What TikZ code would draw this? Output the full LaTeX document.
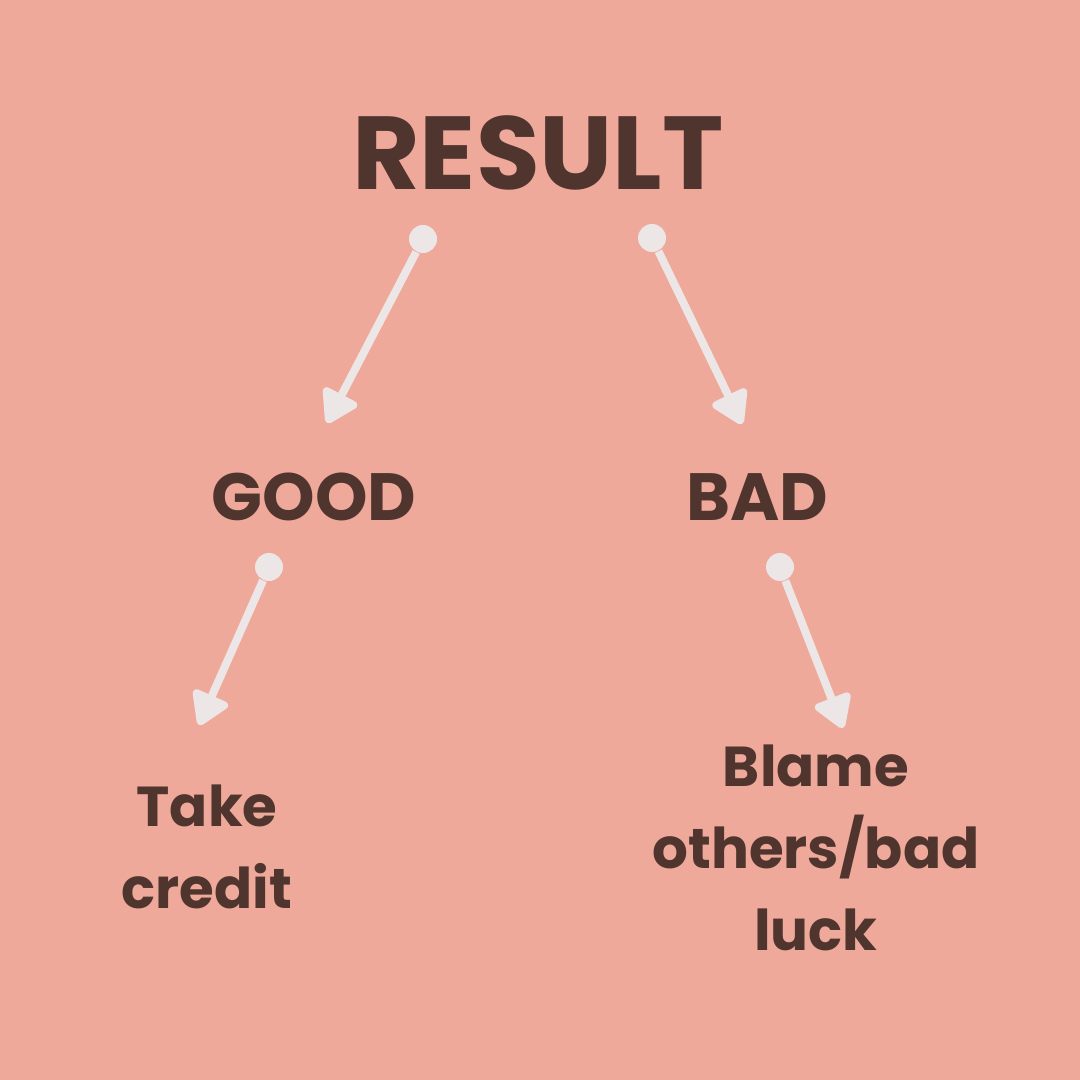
\documentclass[tikz,border=0pt]{standalone}
\usepackage{fontspec}
\setmainfont{Poppins}
\usepackage{tikz}
\usepackage{xcolor}
\usetikzlibrary{positioning,arrows.meta}
\definecolor{rbg}{HTML}{EFA99B}
\definecolor{rbrown}{HTML}{50352F}
\definecolor{rwhite}{HTML}{ECE6E6}

\begin{document}
\begin{tikzpicture}[x=0.01cm, y=-0.01cm,
        every node/.style={text=rbrown, font=\bfseries, inner sep=0pt},
        dot/.style={circle, fill=rwhite, minimum size=0.28cm},
        link/.style={draw=rwhite, line width=0.08cm, -{Triangle[length=0.36cm, width=0.42cm, round]}}]
        \fill[rbg] (0,0) rectangle (1080,1080);
        \node[anchor=base, font=\bfseries\fontsize{29.5}{34}\selectfont] (res) at (538,190) {RESULT};
        \node[anchor=base, font=\bfseries\fontsize{19}{23}\selectfont] (good) at (314,521) {GOOD};
        \node[anchor=base, font=\bfseries\fontsize{19}{23}\selectfont] (bad) at (757,521) {BAD};
        \node[anchor=base, align=center, font=\bfseries\fontsize{16}{23.3}\selectfont] (take) at (207,908) {Take\\credit};
        \node[anchor=base, align=center, font=\bfseries\fontsize{16}{23.3}\selectfont] (blame) at (816,950) {Blame\\others/bad\\luck};
        \node[dot] (d1) at (423,239) {};
        \node[dot] (d2) at (652,238) {};
        \node[dot] (d3) at (269,567) {};
        \node[dot] (d4) at (780,567) {};
        \coordinate (a1) at (327,423);
        \coordinate (a2) at (742,424);
        \coordinate (a3) at (199,725);
        \coordinate (a4) at (843,728);
        \draw[link] (d1) -- (a1);
        \draw[link] (d2) -- (a2);
        \draw[link] (d3) -- (a3);
        \draw[link] (d4) -- (a4);
    \end{tikzpicture}
\end{document}
